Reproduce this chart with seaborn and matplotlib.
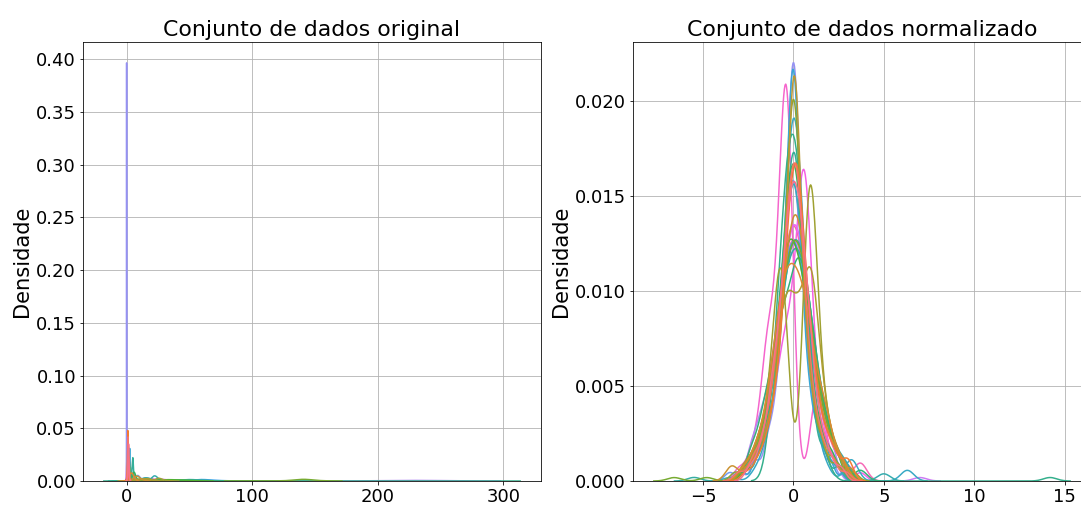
import numpy as np
import pandas as pd
import matplotlib
matplotlib.use('Agg')
import matplotlib.pyplot as plt
import seaborn as sns

# 30 atributos do conjunto de dados (valores distintos + frequência de cada um)
colunas = [f'atributo_{i:02d}' for i in range(30)]

formas = [
    [-2.4, -1.8, -1.3, -0.9, -0.5, -0.2, 0.1, 0.4, 0.7, 1.0, 1.4, 1.9, 2.6],
    [-3.0, -2.2, -1.6, -1.1, -0.7, -0.35, 0.0, 0.3, 0.6, 1.0, 1.5, 2.1, 2.9],
    [-2.6, -1.9, -1.3, -0.8, -0.4, -0.1, 0.2, 0.5, 0.9, 1.3, 1.8, 2.3, 3.0],
    [-2.8, -2.1, -1.5, -1.0, -0.6, -0.2, 0.2, 0.6, 1.0, 1.5, 2.0, 2.7],
    [-3.4, -2.4, -1.7, -1.1, -0.6, -0.2, 0.15, 0.5, 0.9, 1.4, 2.0, 2.6],
    [-2.8, -2.0, -1.4, -0.9, -0.5, -0.2, 0.05, 0.3, 0.6, 1.0, 1.5, 2.2, 3.1],
    [-2.7, -2.0, -1.4, -0.9, -0.4, 0.0, 0.4, 0.9, 1.3, 1.8, 2.4],
    [-2.6, -1.9, -1.3, -0.9, -0.65, -0.5, 0.75, 0.9, 1.05, 1.4, 1.9, 2.5],
    [-3.2, -2.3, -1.6, -1.0, -0.6, -0.25, 0.0, 0.25, 0.6, 1.0, 1.6, 2.4, 3.3],
    [-6.6, -4.8, -2.5, -1.7, -1.1, -0.6, -0.2, 0.2, 0.6, 1.0, 1.5, 2.1, 2.8],
    [-2.5, -1.8, -1.2, -0.7, -0.3, 0.1, 0.5, 0.9, 1.3, 1.8, 2.4],
    [-2.9, -2.1, -1.5, -1.0, -0.6, -0.3, 0.0, 0.3, 0.6, 1.0, 1.5, 2.1, 2.9],
    [-2.3, -1.6, -1.0, -0.5, 0.0, 0.4, 0.8, 1.2, 1.7, 2.3, 3.7],
    [-1.2, -0.9, -0.6, -0.3, 0.0, 0.3, 0.6, 0.9, 1.3, 1.8, 14.2],
    [-2.6, -1.8, -1.2, -0.8, -0.45, -0.15, 0.1, 0.35, 0.7, 1.1, 1.7, 2.5],
    [-5.5, -2.7, -2.0, -1.4, -0.9, -0.5, -0.1, 0.3, 0.7, 1.1, 1.6, 2.2, 2.9],
    [-2.4, -1.7, -1.1, -0.6, -0.2, 0.2, 0.6, 1.0, 1.5, 2.1, 2.8, 5.0],
    [-3.0, -2.2, -1.5, -1.0, -0.55, -0.2, 0.1, 0.4, 0.8, 1.2, 1.7, 2.4],
    [-3.5, -2.0, -1.4, -0.9, -0.5, -0.2, 0.05, 0.3, 0.6, 0.9, 1.3, 1.8, 3.2, 6.3],
    [-2.9, -2.0, -1.4, -0.9, -0.5, -0.2, 0.0, 0.2, 0.5, 0.9, 1.4, 2.0, 2.9],
    [-2.6, -1.9, -1.3, -0.8, -0.35, 0.05, 0.45, 0.9, 1.4, 2.0, 2.7],
    [-3.5, -2.4, -1.7, -1.1, -0.7, -0.3, 0.0, 0.3, 0.7, 1.1, 1.7, 2.4],
    [-3.0, -2.1, -1.4, -0.9, -0.5, -0.2, 0.0, 0.2, 0.5, 0.9, 1.4, 2.1, 3.0],
    [-2.3, -1.7, -1.1, -0.6, -0.2, 0.2, 0.6, 1.0, 1.5, 2.1],
    [-2.7, -2.0, -1.4, -0.9, -0.5, -0.1, 0.3, 0.7, 1.1, 1.6, 2.2, 3.0, 7.0],
    [-2.8, -2.0, -1.4, -0.9, -0.45, -0.05, 0.35, 0.75, 1.2, 1.7, 2.3, 3.0],
    [-2.6, -1.9, -1.3, -0.8, -0.4, 0.0, 0.35, 0.6, 0.85, 1.2, 1.7, 2.3, 3.7],
    [-3.0, -2.3, -1.8, -1.4, -1.0, -0.65, -0.4, -0.15, 1.1, 1.4, 1.8, 2.4],
    [-2.5, -1.8, -1.2, -0.7, -0.3, 0.1, 0.5, 0.9, 1.4, 2.0, 2.6, 3.7],
    [-2.6, -1.9, -1.3, -0.8, -0.4, 0.0, 0.4, 0.8, 1.3, 1.9, 2.6],
]

# frequência de cada valor
pesos = [
    [3, 6, 12, 18, 24, 28, 30, 26, 20, 14, 9, 6, 3],
    [2, 5, 9, 14, 20, 30, 36, 30, 20, 14, 8, 5, 2],
    [2, 5, 10, 16, 24, 30, 34, 28, 20, 12, 8, 5, 5],
    [3, 7, 13, 20, 26, 28, 27, 24, 20, 15, 10, 5],
    [4, 4, 9, 17, 25, 30, 32, 28, 22, 14, 8, 5],
    [3, 6, 10, 14, 18, 26, 50, 26, 16, 12, 8, 5, 3],
    [4, 8, 14, 22, 30, 20, 26, 36, 22, 12, 6],
    [4, 8, 14, 20, 22, 20, 24, 34, 22, 16, 10, 6],
    [2, 4, 8, 14, 20, 30, 40, 30, 20, 13, 8, 4, 2],
    [1, 1, 5, 10, 18, 26, 30, 32, 28, 20, 14, 8, 4],
    [5, 10, 18, 26, 32, 30, 26, 20, 14, 10, 6],
    [2, 5, 10, 16, 22, 28, 34, 28, 20, 14, 9, 6, 3],
    [8, 16, 24, 28, 30, 30, 24, 18, 12, 7, 3],
    [8, 16, 26, 34, 38, 32, 20, 12, 8, 4, 1],
    [3, 7, 14, 20, 26, 28, 28, 26, 18, 10, 6, 3],
    [1, 3, 7, 12, 19, 25, 30, 30, 26, 20, 14, 8, 4],
    [4, 9, 16, 24, 30, 32, 28, 22, 14, 9, 5, 2],
    [2, 5, 10, 18, 26, 30, 30, 26, 20, 13, 7, 3],
    [1, 3, 8, 15, 24, 32, 38, 30, 20, 12, 6, 3, 6, 3],
    [2, 5, 9, 15, 22, 30, 34, 28, 18, 12, 8, 4, 2],
    [4, 9, 16, 24, 30, 32, 28, 22, 16, 10, 5],
    [2, 4, 8, 15, 23, 30, 32, 28, 20, 14, 8, 4],
    [2, 4, 8, 13, 20, 30, 34, 30, 20, 13, 8, 4, 2],
    [8, 14, 22, 28, 30, 30, 26, 20, 14, 8],
    [3, 7, 12, 19, 26, 30, 30, 25, 19, 12, 8, 4, 1],
    [2, 6, 12, 20, 28, 34, 32, 24, 16, 10, 6, 3],
    [3, 6, 11, 16, 20, 22, 26, 33, 24, 14, 8, 4, 2],
    [3, 6, 10, 24, 18, 30, 50, 30, 10, 12, 6, 3],
    [4, 9, 17, 25, 30, 32, 28, 22, 14, 8, 4, 5],
    [4, 8, 15, 23, 30, 34, 30, 22, 15, 9, 5],
]

# média e escala de cada atributo no conjunto original
medias = [1.6, 1.2, 1.0, 4.0, 8.0, 1.3, 12.0, 20.0, 2.0, 140.0,
          35.0, 6.0, 45.0, 25.4, 5.0, 15.0, 22.0, 3.0, 50.0, 2.5,
          60.0, 9.0, 0.05, 230.0, 25.0, 15.0, 2.0, 0.8, 18.0, 5.0]
escalas = [0.45, 0.4, 0.35, 1.5, 3.0, 0.58, 5.0, 6.0, 0.9, 8.0,
           10.0, 2.0, 12.0, 18.8, 0.78, 4.0, 2.6, 1.2, 14.0, 0.7,
           9.0, 3.0, 0.0555, 22.0, 7.0, 5.0, 0.9, 0.46, 6.0, 1.8]

# uma linha por observação
linhas = []
for nome, z, w, m, s in zip(colunas, formas, pesos, medias, escalas):
    for zi, wi in zip(z, w):
        linhas += [(nome, m + s * zi, zi)] * int(wi)
df = pd.DataFrame(linhas, columns=['variavel', 'original', 'normalizado'])

W, H = 1081, 507
fig = plt.figure(figsize=(W / 72, H / 72), dpi=72)
ax1 = fig.add_axes([83 / W, 26 / H, 458 / W, 439 / H])
ax2 = fig.add_axes([633 / W, 26 / H, 458 / W, 439 / H])

for ax, col, titulo in [(ax1, 'original', 'Conjunto de dados original'),
                        (ax2, 'normalizado', 'Conjunto de dados normalizado')]:
    sns.kdeplot(data=df, x=col, hue='variavel', hue_order=colunas,
                palette='husl', bw_method=0.31, legend=False, ax=ax)
    ax.set_title(titulo, fontsize=22)
    ax.set_xlabel('')
    ax.set_ylabel('Densidade', fontsize=21)
    ax.tick_params(labelsize=18)
    ax.grid(True)

ax1.set_xticks([0, 100, 200, 300])
ax1.set_yticks(np.arange(0, 0.41, 0.05))
ax2.set_yticks(np.arange(0, 0.021, 0.005))

fig.savefig('out.png', dpi=72)
